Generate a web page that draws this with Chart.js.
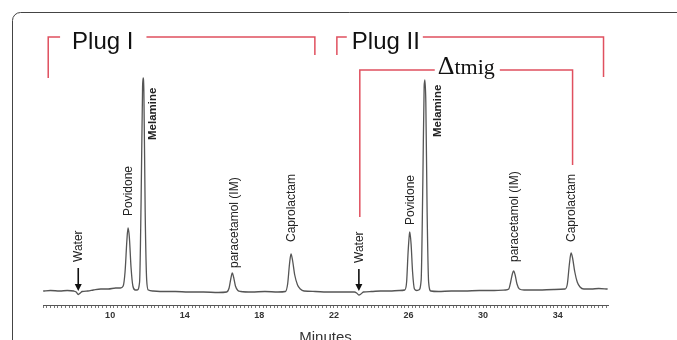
<!DOCTYPE html>
<html>
<head>
<meta charset="utf-8">
<script src="https://cdn.jsdelivr.net/npm/chart.js@4.4.1/dist/chart.umd.min.js"></script>
<style>
  html, body { margin: 0; padding: 0; background: #fff; }
  #wrap { width: 677px; height: 340px; position: relative; }
</style>
</head>
<body>
<div id="wrap"><canvas id="c"></canvas></div>
<script>
// ---- data ----
const times = [6.41, 6.8, 7.3, 7.7, 8.05, 8.18, 8.29, 8.40, 8.50, 8.8, 9.1, 9.5, 9.9, 10.3, 10.55,
  10.70, 10.80, 10.90, 10.96, 11.03, 11.12, 11.22, 11.35, 11.45,
  11.58, 11.66, 11.74, 11.77, 11.81, 11.88, 11.96, 12.05, 12.3,
  12.8, 13.5, 14.2, 15.0, 15.8, 16.25,
  16.38, 16.48, 16.55, 16.62, 16.72, 16.85, 17.0, 17.6, 18.3, 19.0, 19.4,
  19.52, 19.62, 19.70, 19.78, 19.9, 20.05, 20.2, 20.4, 21.0, 21.6, 22.2, 22.7, 23.1,
  23.22, 23.34, 23.45, 23.58, 24.0, 24.5, 25.0, 25.5, 25.8,
  25.90, 25.98, 26.05, 26.07, 26.14, 26.22, 26.32, 26.45, 26.55,
  26.68, 26.77, 26.84, 26.88, 26.93, 27.00, 27.08, 27.2, 27.6,
  28.3, 29.0, 29.8, 30.6, 31.2, 31.38,
  31.48, 31.57, 31.64, 31.72, 31.82, 31.95, 32.2, 33.0, 33.8, 34.4,
  34.52, 34.63, 34.72, 34.80, 34.92, 35.05, 35.2, 35.4, 35.8, 36.2, 36.68];
const signal = [1, 1.5, 1, 1.5, 1, 0, -2.5, -1, 0.5, 1, 2, 3, 3, 4, 4,
  6, 20, 52, 64, 55, 25, 6, 2, 2,
  10, 90, 205, 214, 200, 80, 12, 2, 1,
  0.5, 0.5, 0, 0, -0.5, 0,
  4, 14, 19, 15, 6, 1.5, 0.5, 0, 0.5, 0, 0.5,
  8, 28, 38, 32, 17, 7, 3, 1, 0.5, 0, 0, 0, 0,
  -1, -3, -2, 0, 0.5, 1, 1, 1.5, 2,
  10, 40, 58, 60, 48, 20, 3, 1.5, 2,
  12, 110, 205, 212, 190, 80, 10, 1, 0.5,
  1, 1, 1.5, 1.5, 2, 3,
  10, 18, 21, 17, 8, 3, 2, 2, 2.5, 3,
  8, 28, 39, 34, 20, 10, 5, 3, 3, 3.5, 3];

const tickLabels = [10, 14, 18, 22, 26, 30, 34];
const xMin = 6.4, xMax = 36.7;

// peak labels
const peakNames = ['Water', 'Povidone', 'Melamine', 'paracetamol (IM)', 'Caprolactam',
                   'Water', 'Povidone', 'Melamine', 'paracetamol (IM)', 'Caprolactam'];
const labelTimes = [8.34, 11.02, 12.30, 16.70, 19.75, 23.39, 26.13, 27.57, 31.70, 34.75];
const labelBase  = [30, 76, 152, 24, 50, 29, 67, 155, 30, 50];

// water arrows
const arrowTimes = [8.29, 23.34];
const arrowTop = [24, 23];
const arrowTip = [1, 1];

// brackets
const bracketLabels = ['Plug I', 'Plug II', 'Δtmig'];
const bracketStart = [6.68, 22.16, 23.39];
const bracketEnd = [20.98, 36.46, 34.80];
const bracketTop = [255, 255, 222];
const bracketLeftDrop = [214, 237, 75];
const bracketRightDrop = [237, 215, 127];
const bracketTextStart = [7.96, 22.96, 27.57];
const bracketTextBase = [243, 243, 218];

const points = times.map((t, i) => ({ x: t, y: signal[i] }));

const frame = {
  id: 'frame',
  beforeDraw(chart) {
    const ctx = chart.ctx;
    ctx.save();
    ctx.fillStyle = '#fff';
    ctx.fillRect(0, 0, chart.width, chart.height);
    ctx.strokeStyle = '#444';
    ctx.lineWidth = 1;
    ctx.beginPath();
    ctx.roundRect(12.5, 12.5, chart.width + 20, chart.height + 20, 8);
    ctx.stroke();
    ctx.restore();
  }
};

const notes = {
  id: 'notes',
  afterDraw(chart) {
    const ctx = chart.ctx, xs = chart.scales.x, ys = chart.scales.y;
    const X = v => xs.getPixelForValue(v), Y = v => ys.getPixelForValue(v);
    ctx.save();
    // peak labels
    ctx.fillStyle = '#222';
    ctx.textAlign = 'left';
    ctx.textBaseline = 'middle';
    peakNames.forEach((n, i) => {
      ctx.font = n === 'Melamine'
        ? 'bold 11.5px "Liberation Sans", Arial, sans-serif'
        : '12px "Liberation Sans", Arial, sans-serif';
      ctx.save();
      ctx.translate(X(labelTimes[i]), Y(labelBase[i]));
      ctx.rotate(-Math.PI / 2);
      ctx.fillText(n, 0, 0);
      ctx.restore();
    });
    // arrows
    ctx.strokeStyle = '#111';
    ctx.fillStyle = '#111';
    ctx.lineWidth = 1.6;
    arrowTimes.forEach((t, i) => {
      const x = X(t), y0 = Y(arrowTop[i]), y1 = Y(arrowTip[i]);
      ctx.beginPath(); ctx.moveTo(x, y0); ctx.lineTo(x, y1 - 5); ctx.stroke();
      ctx.beginPath(); ctx.moveTo(x - 3.5, y1 - 7); ctx.lineTo(x + 3.5, y1 - 7); ctx.lineTo(x, y1); ctx.closePath(); ctx.fill();
    });
    // brackets
    const gapsL = [12, 5, 3], gapsR = [13, 3, 5];
    bracketLabels.forEach((lab, i) => {
      const xl = X(bracketStart[i]), xr = X(bracketEnd[i]), yt = Y(bracketTop[i]);
      const tx = X(bracketTextStart[i]), ty = Y(bracketTextBase[i]);
      let tw;
      ctx.fillStyle = '#111';
      ctx.textBaseline = 'alphabetic';
      ctx.textAlign = 'left';
      if (lab.startsWith('Δ')) {
        ctx.font = '26px "Liberation Serif", "Times New Roman", serif';
        const w1 = ctx.measureText('Δ').width;
        ctx.fillText('Δ', tx, ty);
        ctx.font = '22px "Liberation Serif", "Times New Roman", serif';
        const w2 = ctx.measureText(lab.slice(1)).width;
        ctx.fillText(lab.slice(1), tx + w1, ty);
        tw = w1 + w2;
      } else {
        ctx.font = '24px "Liberation Sans", Arial, sans-serif';
        tw = ctx.measureText(lab).width;
        ctx.fillText(lab, tx, ty);
      }
      ctx.strokeStyle = '#e0505f';
      ctx.lineWidth = 1.5;
      ctx.beginPath();
      ctx.moveTo(xl, Y(bracketLeftDrop[i]));
      ctx.lineTo(xl, yt);
      ctx.lineTo(tx - gapsL[i], yt);
      ctx.moveTo(tx + tw + gapsR[i], yt);
      ctx.lineTo(xr, yt);
      ctx.lineTo(xr, Y(bracketRightDrop[i]));
      ctx.stroke();
    });
    ctx.restore();
  }
};

new Chart(document.getElementById('c'), {
  type: 'line',
  data: {
    datasets: [{
      data: points,
      borderColor: '#555',
      borderWidth: 1.3,
      pointRadius: 0,
      fill: false,
      cubicInterpolationMode: 'monotone'
    }]
  },
  options: {
    responsive: true,
    maintainAspectRatio: false,
    animation: false,
    layout: { padding: { left: 43, right: 69, top: 20, bottom: 0 } },
    plugins: { legend: { display: false }, tooltip: { enabled: false } },
    scales: {
      x: {
        type: 'linear',
        min: xMin, max: xMax,
        afterBuildTicks: s => {
          const t = [];
          for (let i = Math.ceil(xMin * 5); i <= Math.floor(xMax * 5); i++) t.push({ value: i / 5 });
          s.ticks = t;
        },
        afterFit: s => { s.height = 35; },
        ticks: {
          autoSkip: false,
          maxRotation: 0,
          padding: 2,
          color: '#333',
          font: { family: '"Liberation Sans", Arial, sans-serif', size: 9, weight: 'bold' },
          callback: v => tickLabels.some(m => Math.abs(m - v) < 1e-6) ? String(Math.round(v)) : ''
        },
        grid: { drawOnChartArea: false, drawTicks: true, tickLength: 3, color: '#777', lineWidth: 1 },
        border: { display: true, color: '#555', width: 1 },
        title: {
          display: true,
          text: 'Minutes',
          color: '#333',
          font: { family: '"Liberation Sans", Arial, sans-serif', size: 15 },
          padding: { top: 0, bottom: -7 }
        }
      },
      y: { type: 'linear', display: false, min: -13, max: 272 }
    }
  },
  plugins: [frame, notes]
});
</script>
</body>
</html>
